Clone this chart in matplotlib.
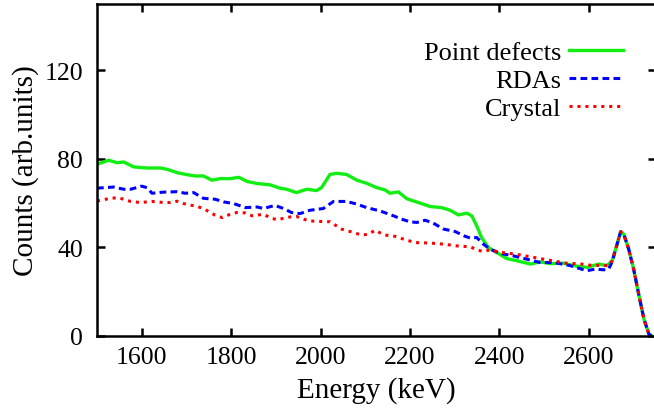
import matplotlib
matplotlib.use("Agg")
import matplotlib.pyplot as plt

# Point defects (green, solid)
pd_energy = [1500, 1526, 1545, 1560, 1582, 1612, 1642, 1657, 1679, 1701,
             1720, 1738, 1757, 1776, 1798, 1817, 1836, 1858, 1887, 1909,
             1924, 1946, 1969, 1991, 2002, 2021, 2036, 2058, 2081, 2103,
             2126, 2144, 2155, 2174, 2193, 2223, 2245, 2271, 2290, 2308,
             2327, 2338, 2349, 2360, 2375, 2394, 2416, 2439, 2469, 2491,
             2513, 2543, 2566, 2595, 2622, 2640, 2652, 2663, 2671, 2678,
             2689, 2700, 2712, 2723, 2734, 2740]
pd_counts = [77.6, 79.4, 78.3, 78.6, 76.4, 75.9, 75.9, 75.3, 73.8, 72.9,
             72.3, 72.3, 70.4, 71.1, 71.1, 71.7, 69.8, 68.9, 68.3, 66.8,
             66.3, 64.8, 66.3, 65.7, 67.0, 73.0, 73.5, 73.0, 70.4, 69.0,
             67.0, 66.0, 64.5, 65.1, 62.0, 60.0, 58.5, 58.0, 56.8, 54.7,
             55.5, 54.3, 49.8, 44.5, 40.0, 37.7, 35.0, 34.0, 32.5, 33.5,
             32.7, 32.9, 31.8, 31.0, 32.5, 31.8, 34.0, 41.5, 47.1, 46.0,
             39.2, 30.2, 18.2, 7.7, 0.9, 0.0]

# RDAs (blue, dashed)
rda_energy = [1500, 1537, 1560, 1575, 1600, 1612, 1623, 1649, 1679, 1697,
              1716, 1738, 1764, 1783, 1806, 1832, 1858, 1872, 1898, 1917,
              1935, 1954, 1976, 2006, 2029, 2058, 2081, 2103, 2133, 2163,
              2181, 2200, 2215, 2234, 2252, 2275, 2301, 2320, 2335, 2349,
              2364, 2379, 2402, 2431, 2461, 2491, 2521, 2558, 2595, 2614,
              2633, 2644, 2652, 2663, 2671, 2678, 2689, 2700, 2712, 2723,
              2734, 2740]
rda_counts = [66.8, 67.3, 66.3, 66.3, 67.7, 67.0, 64.5, 65.0, 65.2, 64.5,
              64.8, 62.2, 61.8, 60.6, 59.8, 58.0, 58.3, 57.6, 59.0, 57.6,
              55.8, 55.3, 56.8, 57.6, 60.8, 60.8, 59.6, 58.0, 56.5, 54.3,
              52.8, 51.6, 51.3, 52.3, 51.0, 48.3, 47.2, 45.3, 44.2, 44.5,
              41.5, 39.2, 37.3, 36.2, 34.7, 33.2, 33.2, 31.8, 29.5, 30.2,
              29.9, 30.2, 33.5, 41.5, 47.1, 46.0, 39.2, 30.2, 18.2, 7.7,
              0.9, 0.0]

# Crystal (red, dotted)
cr_energy = [1500, 1530, 1548, 1575, 1597, 1623, 1649, 1664, 1679, 1694,
             1724, 1738, 1764, 1780, 1794, 1813, 1832, 1847, 1872, 1887,
             1902, 1932, 1946, 1973, 2006, 2021, 2047, 2066, 2092, 2107,
             2122, 2141, 2167, 2185, 2211, 2245, 2275, 2305, 2335, 2349,
             2364, 2379, 2402, 2435, 2469, 2498, 2528, 2543, 2584, 2610,
             2628, 2644, 2652, 2663, 2671, 2678, 2689, 2700, 2712, 2723,
             2734, 2740]
cr_counts = [61.0, 62.2, 62.5, 60.8, 60.3, 60.8, 60.3, 60.3, 60.9, 59.8,
             58.5, 57.6, 54.6, 53.5, 54.7, 55.8, 55.6, 54.3, 55.0, 53.5,
             52.5, 53.8, 54.0, 52.0, 51.7, 51.6, 48.3, 47.2, 45.6, 46.0,
             47.8, 45.7, 45.0, 43.8, 42.2, 42.0, 41.5, 40.7, 40.3, 38.9,
             38.2, 38.9, 37.8, 37.0, 35.8, 34.7, 33.7, 33.0, 32.5, 31.8,
             32.0, 31.8, 34.0, 41.5, 47.1, 46.0, 39.2, 30.2, 18.2, 7.7,
             0.9, 0.0]

x_ticks = [1600, 1800, 2000, 2200, 2400, 2600]
y_ticks = [0, 40, 80, 120]

plt.rcParams["font.family"] = ["Liberation Serif", "DejaVu Serif"]

fig = plt.figure(figsize=(6.54, 4.14), dpi=100)
ax = fig.add_axes([97 / 654, 77 / 414, 559 / 654, 332 / 414])

ax.plot(pd_energy, pd_counts, color="#11ee11", lw=2.4, label="Point defects")
ax.plot(rda_energy, rda_counts, color="#0000ff", lw=2.2, dashes=(2.2, 1.4),
        label="RDAs")
ax.plot(cr_energy, cr_counts, color="#ff0000", lw=2.2, dashes=(1.0, 1.6),
        label="Crystal")

ax.set_xlim(1500, 2750)
ax.set_ylim(0, 150)
ax.set_xticks(x_ticks)
ax.set_yticks(y_ticks)
ax.tick_params(direction="in", length=6, width=1.8, labelsize=18.5,
               top=True, right=True)
ax.tick_params(axis="x", pad=7)
ax.tick_params(axis="y", pad=10)
for s in ax.spines.values():
    s.set_linewidth(1.8)

ax.set_xlabel("Energy (keV)", fontsize=21, labelpad=6)
ax.set_ylabel("Counts (arb.units)", fontsize=21, labelpad=4)

ax.legend(loc="upper right", bbox_to_anchor=(623 / 654, 1 - 42 / 414),
          bbox_transform=fig.transFigure, frameon=False, markerfirst=False,
          fontsize=19, handlelength=2.05, handletextpad=0.28,
          labelspacing=0.16, borderpad=0, borderaxespad=0)

fig.savefig("out.png", dpi=100)
